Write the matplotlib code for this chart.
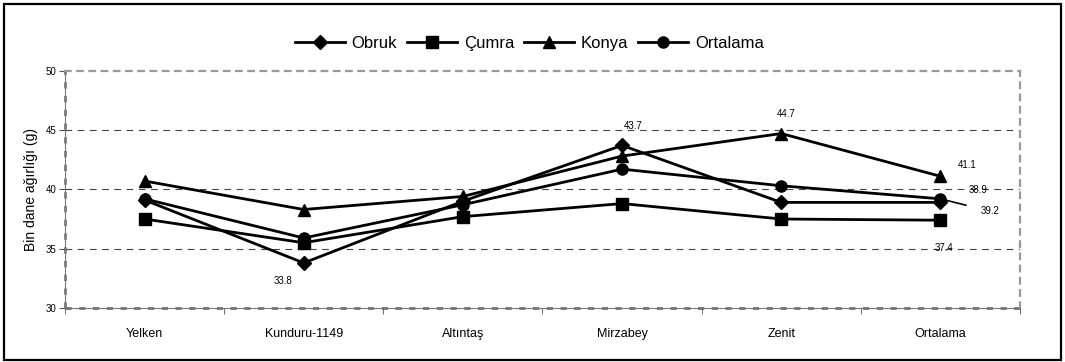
import numpy as np
import matplotlib.pyplot as plt
from matplotlib.patches import Rectangle

plt.rcParams['font.family'] = ['Liberation Sans', 'DejaVu Sans']

# kategoriler ve lokasyonlara göre bin dane ağırlığı (g)
cesitler = ['Yelken', 'Kunduru-1149', 'Altıntaş', 'Mirzabey', 'Zenit', 'Ortalama']
obruk = [39.1, 33.8, 39.0, 43.7, 38.9, 38.9]
cumra = [37.5, 35.5, 37.7, 38.8, 37.5, 37.4]
konya = [40.7, 38.3, 39.4, 42.8, 44.7, 41.1]
ortalama = [39.2, 35.9, 38.7, 41.7, 40.3, 39.2]

x = np.arange(len(cesitler))

fig = plt.figure(figsize=(10.65, 3.62), dpi=100)
fig.patches.append(Rectangle((0.004, 0.005), 0.992, 0.985, transform=fig.transFigure,
                             fill=False, edgecolor='black', linewidth=1.6))
ax = fig.add_axes([0.061, 0.149, 0.8967, 0.656])

seriler = [(obruk, 'D', 7, 'Obruk'), (cumra, 's', 8, 'Çumra'),
           (konya, '^', 8, 'Konya'), (ortalama, 'o', 8, 'Ortalama')]
for veri, m, ms, ad in seriler:
    ax.plot(x, veri, color='black', linewidth=2.0, marker=m, markersize=ms, label=ad)

ax.set_xlim(-0.5, 5.5)
ax.set_ylim(30, 50)
ax.set_yticks([30, 35, 40, 45, 50])

# yatay kılavuz çizgileri
for yv in [35, 40, 45]:
    ax.axhline(yv, color='#444444', linewidth=0.8, linestyle=(0, (6, 5)), zorder=0)

# çizim alanı kenarları (kesikli gri)
for s in ['top', 'right']:
    ax.spines[s].set_color('#999999')
    ax.spines[s].set_linewidth(1.6)
    ax.spines[s].set_linestyle((0, (2.5, 3)))
for s in ['left', 'bottom']:
    ax.spines[s].set_color('#777777')
    ax.spines[s].set_linewidth(0.8)
ax.axhline(30, color='#555555', linewidth=1.8, linestyle=(0, (2.5, 3)), clip_on=False, zorder=1)
ax.axvline(-0.5, color='#666666', linewidth=1.8, linestyle=(0, (2.5, 3)), clip_on=False, zorder=1)

ax.set_xticks(x)
ax.set_xticklabels(cesitler, fontsize=9)
ax.set_xticks(np.arange(-0.5, 6.0, 1.0), minor=True)
ax.tick_params(axis='x', which='major', length=0, pad=14)
ax.tick_params(axis='x', which='minor', length=4, direction='out', color='#555555')
ax.tick_params(axis='y', labelsize=7, length=4, color='#555555', pad=2)
ax.set_ylabel('Bin dane ağırlığı (g)', fontsize=10, labelpad=6)

# değer etiketleri
etiketler = [
    (1, obruk[1], (-15, -13)),
    (3, obruk[3], (8, 14)),
    (4, konya[4], (3.5, 14)),
    (5, konya[5], (19, 8)),
    (5, obruk[5], (27, 9)),
    (5, cumra[5], (3, -20)),
]
for xi, yv, off in etiketler:
    ax.annotate(f'{yv:.1f}', (xi, yv), xytext=off, textcoords='offset points',
                ha='center', va='center', fontsize=7)
ax.annotate(f'{ortalama[5]:.1f}', (5, ortalama[5]), xytext=(36, -9), textcoords='offset points',
            ha='center', va='center', fontsize=7,
            arrowprops=dict(arrowstyle='-', color='black', linewidth=1.2,
                            shrinkA=9, shrinkB=0))

fig.legend(loc='center', bbox_to_anchor=(0.497, 0.88), ncol=4, frameon=False,
           fontsize=12, handlelength=3.0, handletextpad=0.4, columnspacing=0.6)

fig.savefig('out.png', dpi=100)
